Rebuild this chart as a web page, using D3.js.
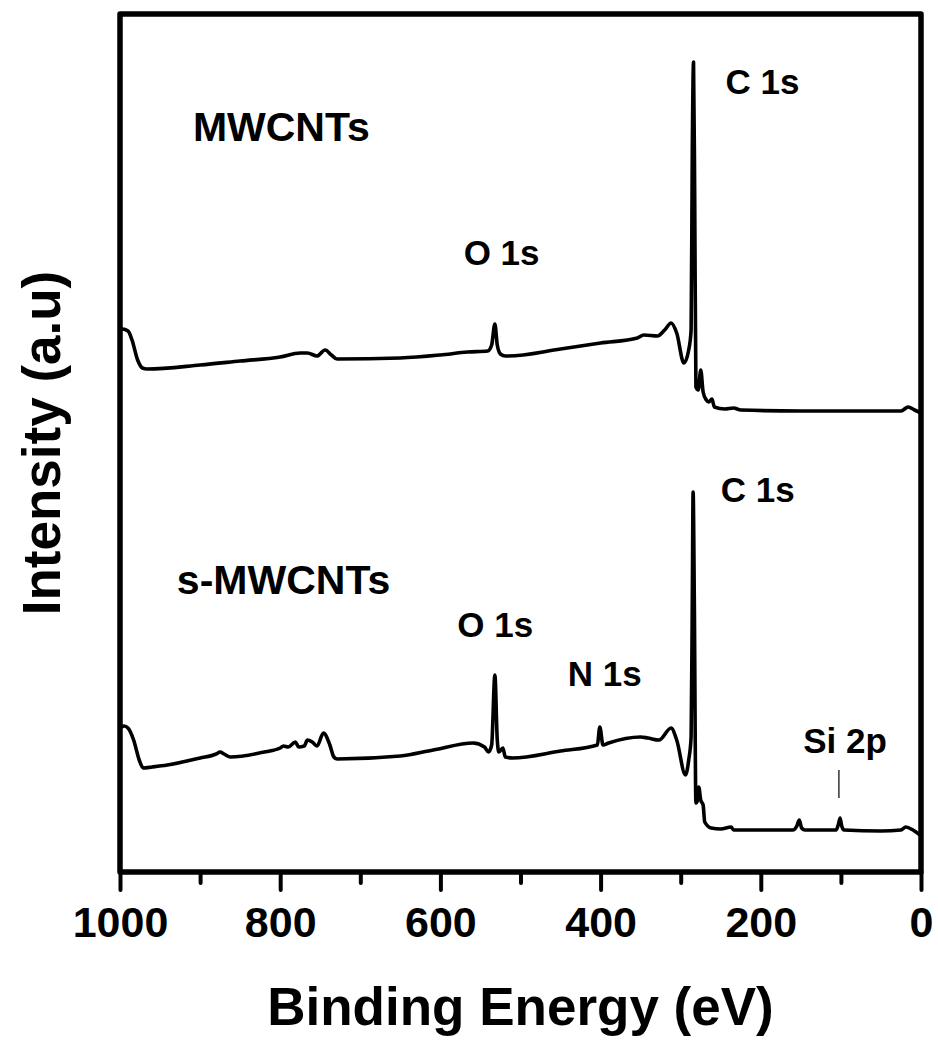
<!DOCTYPE html>
<html>

<head>
    <meta charset="UTF-8">
    <title>XPS survey</title>
    <script src="https://cdn.jsdelivr.net/npm/d3@7"></script>
    <style>
        body { margin: 0; background: #fff; }
        text { font-family: "Liberation Sans", Arial, sans-serif; font-weight: bold; fill: #000; }
    </style>
</head>

<body>
    <script>
        // binding energy (eV) and intensity (a.u.)
        const mwcntsE = [1000, 997, 990, 985, 978, 972, 966, 900, 850, 800, 775, 766, 754, 744, 736, 729, 650, 600, 566, 541, 536, 532, 529, 525, 519, 516, 450, 400, 354, 346, 329, 320, 312, 305, 296, 290, 287, 285.5, 284, 282.5, 281, 278, 275, 272, 268, 265, 261, 258, 245, 234, 225, 150, 50, 25, 16, 8, 0];
        const mwcntsI = [541, 543, 541, 532, 512, 504, 503, 507, 511, 515, 519, 519, 516, 522, 517, 513, 514, 517, 520, 521, 527, 548, 527, 518, 516, 516, 523, 529, 534, 537, 536, 542, 549, 539, 509, 522, 542, 722, 810, 672, 485, 482, 502, 480, 472, 470, 473, 465, 463, 464, 462, 461, 461, 461, 465, 462, 459];

        const smwcntsE = [1000, 995, 990, 983, 976, 971, 960, 941, 900, 880, 875, 870, 862, 820, 800, 796, 790, 781, 777, 770, 766, 760, 754, 746, 738, 733, 729, 650, 609, 559, 545, 540, 536, 532, 529, 527, 522, 519, 510, 450, 404, 401, 397, 390, 350, 341, 327, 312, 305, 294, 290, 287, 285.5, 284.5, 283, 281, 279, 277.5, 275, 272, 270, 262, 250, 237, 234, 160, 155, 152, 149, 145, 106, 103, 101, 99, 96, 50, 25, 19, 10, 0];
        const smwcntsI = [144, 146, 144, 132, 112, 104, 105, 107, 114, 118, 120, 118, 115, 120, 124, 126, 125, 130, 125, 126, 132, 130, 126, 139, 127, 115, 113, 116, 122, 129, 125, 120, 127, 197, 132, 120, 124, 115, 114, 121, 127, 145, 127, 129, 135, 134, 132, 144, 132, 97, 112, 135, 272, 380, 272, 69, 72, 85, 72, 67, 50, 44, 43, 45, 42, 42, 46, 52, 44, 42, 42, 48, 54, 46, 42, 41, 42, 45, 42, 36];

        const xTicks = [1000, 800, 600, 400, 200, 0];
        const xMinorTicks = [900, 700, 500, 300, 100];

        const sampleLabels = ['MWCNTs', 's-MWCNTs'];
        const sampleLabelE = [909, 929];
        const sampleLabelI = [731, 278];

        const peakLabels = ['O 1s', 'C 1s', 'O 1s', 'N 1s', 'C 1s', 'Si 2p'];
        const peakLabelE = [571, 244, 579, 441, 250, 147];
        const peakLabelI = [607, 778, 235, 186, 370, 119];

        const width = 938;
        const height = 1041;
        const margin = { top: 14, right: 17, bottom: 169, left: 120 };

        const svg = d3.select('body')
            .append('svg')
            .attr('width', width)
            .attr('height', height);

        const x = d3.scaleLinear()
            .domain([1000, 0])
            .range([margin.left, width - margin.right]);

        const y = d3.scaleLinear()
            .domain([0, 858])
            .range([height - margin.bottom, margin.top]);

        const line = d3.line()
            .x(d => x(d[0]))
            .y(d => y(d[1]))
            .curve(d3.curveMonotoneX);

        const series = [
            d3.zip(mwcntsE, mwcntsI),
            d3.zip(smwcntsE, smwcntsI)
        ];

        svg.append('g')
            .selectAll('path')
            .data(series)
            .join('path')
            .attr('d', line)
            .attr('fill', 'none')
            .attr('stroke', '#000')
            .attr('stroke-width', 3.6)
            .attr('stroke-linejoin', 'round');

        // frame
        svg.append('rect')
            .attr('x', x(1000))
            .attr('y', y(858))
            .attr('width', x(0) - x(1000))
            .attr('height', y(0) - y(858))
            .attr('fill', 'none')
            .attr('stroke', '#000')
            .attr('stroke-width', 5.5)
            .attr('stroke-linejoin', 'round');

        // bottom axis
        const xAxis = svg.append('g')
            .attr('transform', `translate(0,${y(0)})`);

        xAxis.call(d3.axisBottom(x).tickValues(xMinorTicks).tickSize(11).tickFormat(''));
        xAxis.call(g => g.selectAll('.tick line').attr('stroke-width', 4).attr('stroke-linecap', 'round'));

        const xMajor = svg.append('g')
            .attr('transform', `translate(0,${y(0)})`)
            .call(d3.axisBottom(x).tickValues(xTicks).tickSize(18).tickPadding(0).tickFormat(d3.format('d')));

        xMajor.selectAll('.tick line').attr('stroke-width', 4).attr('stroke-linecap', 'round');
        xMajor.selectAll('.tick text')
            .attr('font-size', 43)
            .attr('font-family', '"Liberation Sans", Arial, sans-serif')
            .attr('font-weight', 'bold')
            .attr('dy', null)
            .attr('y', 65);
        svg.selectAll('.domain').remove();

        // axis titles
        svg.append('text')
            .attr('x', (x(1000) + x(0)) / 2)
            .attr('y', 1025)
            .attr('text-anchor', 'middle')
            .attr('font-size', 53)
            .text('Binding Energy (eV)');

        svg.append('text')
            .attr('transform', `translate(60,${(y(0) + y(858)) / 2}) rotate(-90)`)
            .attr('text-anchor', 'middle')
            .attr('font-size', 53)
            .text('Intensity (a.u)');

        // annotations
        svg.append('g')
            .selectAll('text')
            .data(sampleLabels)
            .join('text')
            .attr('x', (d, i) => x(sampleLabelE[i]))
            .attr('y', (d, i) => y(sampleLabelI[i]))
            .attr('font-size', 41)
            .text(d => d);

        svg.append('g')
            .selectAll('text')
            .data(peakLabels)
            .join('text')
            .attr('x', (d, i) => x(peakLabelE[i]))
            .attr('y', (d, i) => y(peakLabelI[i]))
            .attr('font-size', 35)
            .text(d => d);

        // Si 2p marker
        svg.append('line')
            .attr('x1', x(102.5))
            .attr('x2', x(102.5))
            .attr('y1', y(102))
            .attr('y2', y(74))
            .attr('stroke', '#333')
            .attr('stroke-width', 1.5);
    </script>
</body>

</html>
